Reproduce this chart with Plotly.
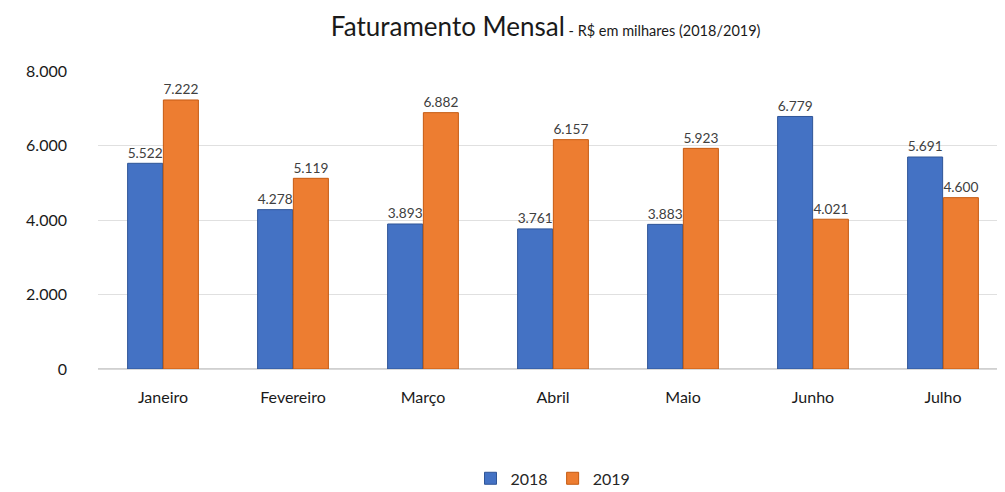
import plotly.graph_objects as go

meses = ["Janeiro", "Fevereiro", "Março", "Abril", "Maio", "Junho", "Julho"]
v2018 = [5522, 4278, 3893, 3761, 3883, 6779, 5691]
v2019 = [7222, 5119, 6882, 6157, 5923, 4021, 4600]
y_ticks = [0, 2000, 4000, 6000, 8000]
y_tick_labels = ["0", "2.000", "4.000", "6.000", "8.000"]

def fmt(v):
    return f"{v:,}".replace(",", ".")

FONT = "Lato, 'Open Sans', sans-serif"

fig = go.Figure()
fig.add_trace(go.Bar(
    name="2018", x=meses, y=v2018,
    marker=dict(color="#4472C4", line=dict(color="#2F5597", width=1)),
    text=[fmt(v) for v in v2018], textposition="outside",
    textfont=dict(size=16, color="#404040", family=FONT), cliponaxis=False,
))
fig.add_trace(go.Bar(
    name="2019", x=meses, y=v2019,
    marker=dict(color="#ED7D31", line=dict(color="#C55A11", width=1)),
    text=[fmt(v) for v in v2019], textposition="outside",
    textfont=dict(size=16, color="#404040", family=FONT), cliponaxis=False,
))

fig.update_layout(
    width=1005, height=492,
    paper_bgcolor="white", plot_bgcolor="white",
    font=dict(family=FONT, color="#262626"),
    title=dict(
        text="Faturamento Mensal<span style='font-size:14.5px'> - R$ em milhares (2018/2019)</span>",
        x=0.535, xanchor="center", y=0.98, yanchor="top",
        font=dict(size=26, color="#1a1a1a", family=FONT),
    ),
    barmode="group", bargap=0.45, bargroupgap=0.02,
    margin=dict(l=90, r=5, t=63, b=112),
    legend=dict(orientation="h", x=0.5, xanchor="center", y=-0.31, yanchor="top",
                font=dict(size=16, color="#262626"), traceorder="normal",
                itemwidth=30),
    showlegend=True,
    xaxis=dict(tickfont=dict(size=16, color="#1a1a1a"), showline=True,
               linecolor="#d9d9d9", ticks="", ticklabelstandoff=14),
    yaxis=dict(range=[0, 8000], tickvals=y_ticks, ticktext=y_tick_labels,
               tickfont=dict(size=16, color="#1a1a1a"), gridcolor="#e0e0e0",
               zeroline=True, zerolinecolor="#d0d0d0", ticks="", ticklabelstandoff=30),
)

fig.write_html("out.html")
